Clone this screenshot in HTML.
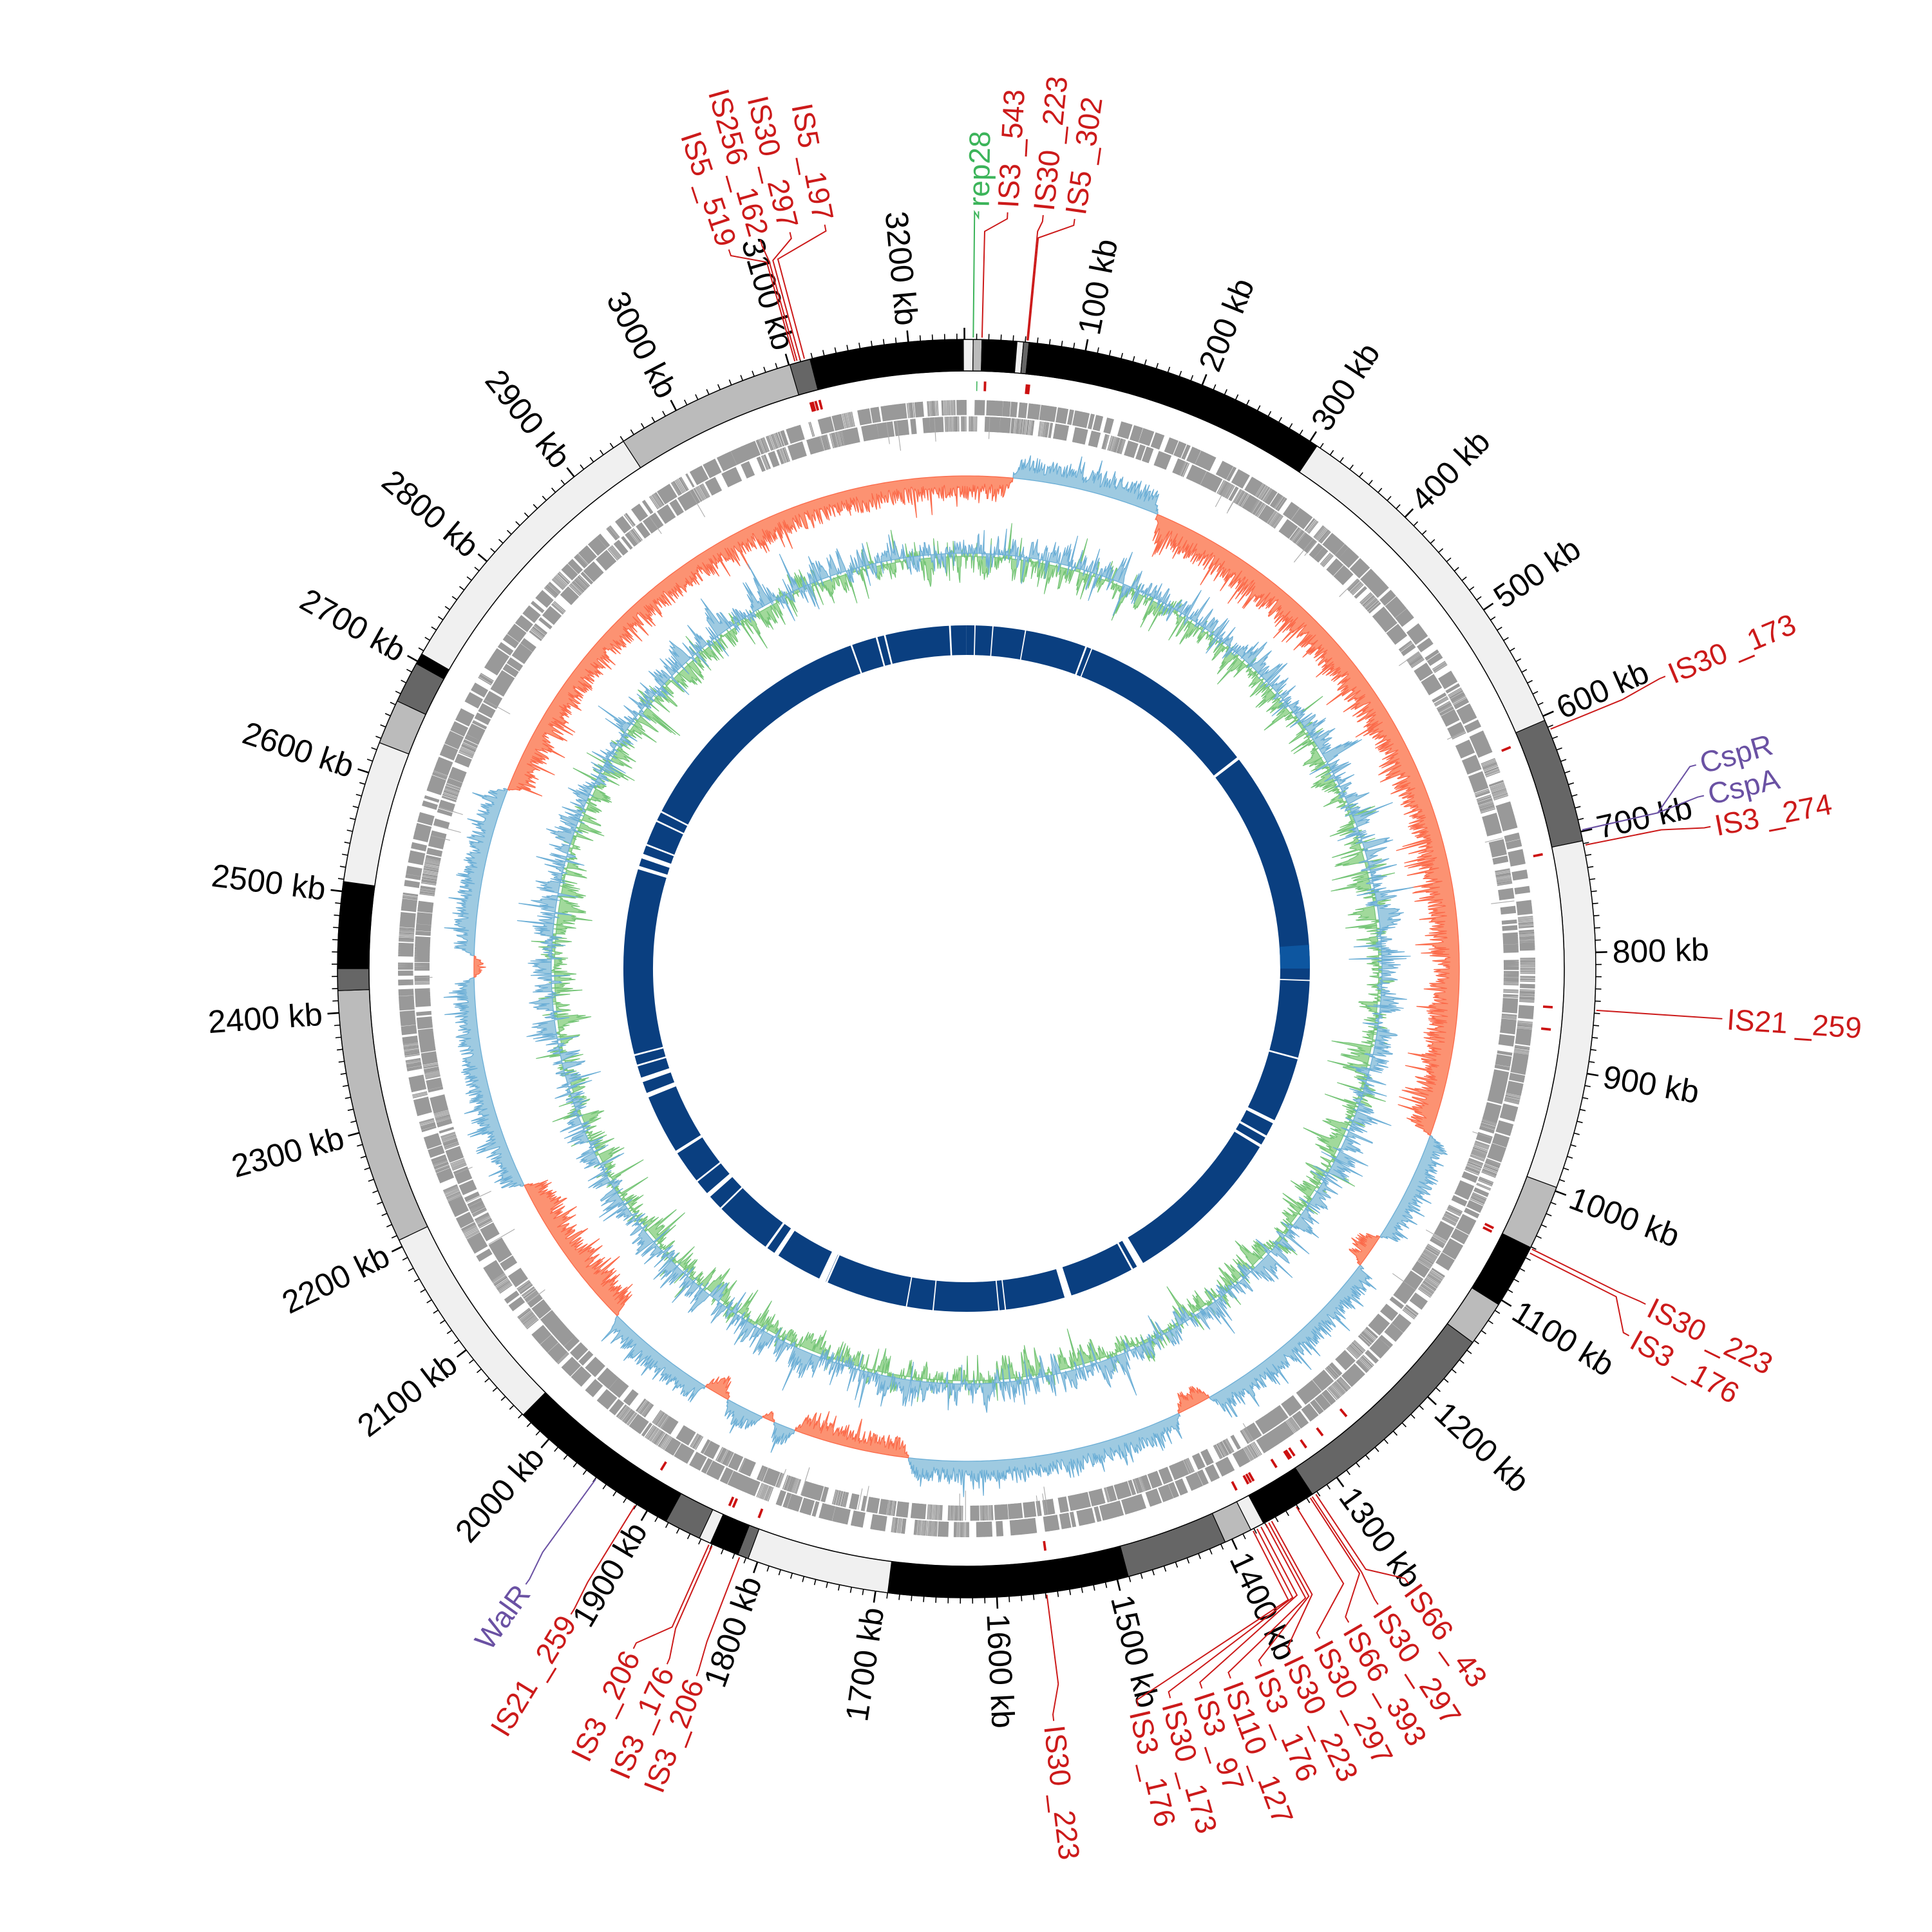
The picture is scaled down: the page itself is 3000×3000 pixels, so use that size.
<!DOCTYPE html>
<html><head><meta charset="utf-8"><style>html,body{margin:0;padding:0;background:#fff;}svg{display:block;}</style></head>
<body>
<svg id="s" xmlns="http://www.w3.org/2000/svg" width="3000" height="3000" viewBox="0 0 3000 3000">
<rect width="3000" height="3000" fill="#fff"/>
<g id="g"></g>
</svg>
<script>
(function(){
var cx=1501, cy=1504, NS="http://www.w3.org/2000/svg", G=document.getElementById('g');
function P(r,a){var t=a*Math.PI/180;return [cx+r*Math.sin(t), cy-r*Math.cos(t)];}
function f(p){return p[0].toFixed(1)+" "+p[1].toFixed(1);}
function el(tag,attrs,txt){var e=document.createElementNS(NS,tag);for(var k in attrs)e.setAttribute(k,attrs[k]);if(txt!==undefined)e.textContent=txt;G.appendChild(e);return e;}
function sector(r1,r2,a1,a2,fill,extra){var lg=(a2-a1)>180?1:0;
 var d="M"+f(P(r2,a1))+"A"+r2+" "+r2+" 0 "+lg+" 1 "+f(P(r2,a2))+"L"+f(P(r1,a2))+"A"+r1+" "+r1+" 0 "+lg+" 0 "+f(P(r1,a1))+"Z";
 var o={d:d,fill:fill};if(extra)for(var k in extra)o[k]=extra[k];return el('path',o);}
var seed=12345;function rnd(){seed|=0;seed=seed+0x6D2B79F5|0;var t=Math.imul(seed^seed>>>15,1|seed);t=t+Math.imul(t^t>>>7,61|t)^t;return((t^t>>>14)>>>0)/4294967296;}
function cor(a){return a+0.4*Math.cos(a*Math.PI/180);}

var L="#f0f0f0",LG="#bbbbbb",D="#666666",B="#000000";
var bands=[[-14.8,-0.7,B],[-0.7,0.2,L],[0.2,1.0,LG],[1.0,4.2,B],[4.2,4.8,L],[4.8,5.3,D],[5.3,33.5,B],[33.5,66.6,L],[66.6,78.2,D],[78.2,110.5,L],[110.5,116.5,LG],[116.5,122.5,B],[122.5,126.7,LG],[126.7,147,D],[147,152.2,B],[152.2,153.5,L],[153.5,156.1,LG],[156.1,165.5,D],[165.5,187.6,B],[187.6,200.7,L],[200.7,201.7,D],[201.7,204.4,B],[204.4,205.5,L],[205.5,208.9,D],[208.9,225.1,B],[225.1,244.6,L],[244.6,268,LG],[268,270,D],[270,277.9,B],[277.9,290.9,L],[290.9,295,LG],[295,298.8,D],[298.8,299.8,B],[299.8,326.6,L],[326.6,343.3,LG],[343.3,345.2,D]];
bands.forEach(function(b){sector(928,977,cor(b[0]),cor(b[1]),b[2],{stroke:"#000","stroke-width":"1.2"});});
el('circle',{cx:cx,cy:cy,r:977,fill:"none",stroke:"#000","stroke-width":"1.5"});
el('circle',{cx:cx,cy:cy,r:928,fill:"none",stroke:"#000","stroke-width":"1.5"});

var dmin="",dmaj="";
for(var kb=0;kb<=3240;kb+=10){var a=-0.2+kb*0.1109;
 if(kb%100===0){dmaj+="M"+f(P(977,a))+"L"+f(P(995,a));}else{dmin+="M"+f(P(977,a))+"L"+f(P(986,a));}}
el('path',{d:dmin,stroke:"#000","stroke-width":"1.6",fill:"none"});
el('path',{d:dmaj,stroke:"#000","stroke-width":"2.6",fill:"none"});
function rtext(txt,a,r,color,size){var p=P(r,a);var aa=((a%360)+360)%360;var rot,anc;
 if(aa<180){rot=aa-90;anc="start";}else{rot=aa+90;anc="end";}
 el('text',{x:p[0].toFixed(1),y:p[1].toFixed(1),transform:"rotate("+rot.toFixed(2)+" "+p[0].toFixed(1)+" "+p[1].toFixed(1)+")","text-anchor":anc,"dominant-baseline":"central","font-family":"'Liberation Sans Narrow','Liberation Sans',sans-serif","font-size":size,fill:color},txt);}
for(var kb=100;kb<=3200;kb+=100){rtext(kb+" kb",-0.2+kb*0.1109,1003,"#000",50);}

var marks=[1.4,5.5,5.7,-15.8,-15.6,-15.3,-14.9,67.7,78.7,93.8,116.4,116.8,146.4,146.8,147,148.5,151.1,151.4,151.7,153,172.7,201.1,203.8,204.2,211.7,96,140,143,145];
marks.forEach(function(m){sector(897,912,cor(m)-0.12,cor(m)+0.12,"#cc1111");});
sector(897,912,cor(0.6)-0.05,cor(0.6)+0.05,"#3cb45a");

var gd="";
[[834,857.5],[859.5,883]].forEach(function(rr,row){var a=row*0.3;
 while(a<360){var g=rnd()<0.6?rnd()*0.3:rnd()*0.9;a+=g;var bl=0.2+rnd()*1.4;var dense=rnd()<0.75;
  for(var b=a;b<a+bl&&b<360;b+=(dense?0.045:0.1)+rnd()*0.05){gd+="M"+f(P(rr[0],b))+"L"+f(P(rr[1],b));}
  a+=bl;}});
el('path',{d:gd,stroke:"#999","stroke-width":"1.6",fill:"none"});
var ld="";for(var i=0;i<40;i++){var a=rnd()*360;ld+="M"+f(P(810+rnd()*20,a))+"L"+f(P(857,a));}
el('path',{d:ld,stroke:"#aaa","stroke-width":"1.1",fill:"none"});

var base=765;
function skew(a1,a2,dir,amp,fill,stroke){var pts=[];pts.push(P(base,a1));
 for(var a=a1;a<=a2;a+=0.09){var v=amp*(0.2+0.45*rnd()+(rnd()<0.12?0.45*rnd():0));var edge=Math.min(1,(a-a1)/0.8,(a2-a)/0.8);v*=Math.max(0.2,edge);pts.push(P(base+dir*v,a));}
 pts.push(P(base,a2));for(var a=a2;a>=a1;a-=0.5)pts.push(P(base,a));
 el('polygon',{points:pts.map(f).join(" "),fill:fill,stroke:stroke,"stroke-width":"1.3","stroke-linejoin":"round"});}
var blueR=[[5.4,22.8],[109.8,123],[127,150.5],[154.5,186.8],[200.4,203],[204.5,209],[212,225.2],[243.9,269],[271.5,291.3]];
var redR=[[22.8,109.8,70],[123,127,50],[150.5,154.5,45],[186.8,200.4,45],[203,204.5,30],[209,212,50],[225.2,243.9,65],[269,271.5,25],[291.3,365.4,60]];
blueR.forEach(function(r){skew(r[0],r[1],1,52,"#9ecae1","#6baed6");});
redR.forEach(function(r){skew(r[0],r[1],-1,r[2],"#fc9272","#fb6a4a");});

function gc(b,amp,bias,fill,stroke){var pts=[];pts.push(P(b,0));var w=0;
 for(var a=0;a<=360;a+=0.1){w=w*0.8+(rnd()-0.5)*amp*0.6;var v=w+bias+(rnd()<0.08?(rnd()-0.5)*amp*2.2:(rnd()-0.5)*amp*0.6);pts.push(P(b+v,a));}
 for(var a=360;a>=0;a-=0.5)pts.push(P(b,a));
 el('polygon',{points:pts.map(f).join(" "),fill:fill,stroke:stroke,"stroke-width":"1.2","stroke-linejoin":"round"});}
gc(640,40,-6,"#a1d99b","#74c476");
gc(645,40,8,"#9ecae1","#6baed6");

sector(487,533,0,359.99,"#0a3f80");
sector(487,533,cor(86),cor(90),"#0d56a0");
var gaps=[[-14.2,0.3],[-15.6,0.3],[-20,0.3],[-3.2,0.3],[1,0.2],[4,0.2],[9.5,0.2],[20,0.3],[21,0.2],[52,0.5],[92,0.2],[105.3,0.3],[116.7,0.6],[119.5,0.4],[121.3,0.5],[150,1.2],[151.5,0.3],[163.2,1.2],[173.9,0.2],[175,0.2],[186,0.2],[190.5,0.2],[204.4,0.3],[205.2,1.2],[214,0.8],[216,0.4],[226,0.3],[229,0.8],[232,0.3],[237.9,0.5],[248.5,0.8],[251.2,0.8],[253.7,0.3],[255.5,0.3],[287,0.6],[289,0.8],[291,0.3],[295.3,0.3],[297,0.3]];
gaps.forEach(function(g){var a=cor(g[0]);sector(484,536,a-g[1]/2,a+g[1]/2,"#fff");});

var RED="#cc1a1a",PUR="#6a51a3",GRN="#3cb45a";
function lab(txt,ap,al,color,rb){rb=rb||1120;
 var pts=[P(980,ap),P(rb,ap),P(1166,al),P(1176,al)];
 el('polyline',{points:pts.map(f).join(" "),fill:"none",stroke:color,"stroke-width":"2"});
 rtext(txt,al,1183,color,46);}
lab("rep28",0.6,0.9,GRN,1175);
lab("IS3 _543",1.4,3.1,RED,1145);
lab("IS30 _223",5.5,5.8,RED,1150);
lab("IS5 _302",5.6,8.2,RED,1140);
lab("IS5 _519",-15.8,-18.3,RED,1140);
lab("IS256 _162",-15.6,-15.8,RED,1140);
lab("IS30 _297",-15.3,-13.5,RED,1140);
lab("IS5 _197",-14.9,-10.8,RED,1140);
lab("IS30 _173",67.7,67.3,RED,1100);
lab("CspR",77.3,74.4,PUR,1100);
lab("CspA",77.3,76.8,PUR,1100);
lab("IS3 _274",78.7,79.2,RED,1100);
lab("IS21 _259",93.8,93.8,RED,1100);
lab("IS30 _223",116.4,116.3,RED,1130);
lab("IS3 _176",116.8,119,RED,1130);
lab("IS66 _43",146.4,144.3,RED,1120);
lab("IS30 _297",146.8,147.1,RED,1120);
lab("IS66 _393",147.0,149.7,RED,1120);
lab("IS30 _297",148.5,152.2,RED,1120);
lab("IS30 _223",151.1,154.7,RED,1110);
lab("IS3 _176",151.4,157.1,RED,1110);
lab("IS110 _127",151.7,159.6,RED,1110);
lab("IS3 _97",152.2,161.9,RED,1100);
lab("IS30 _173",152.6,164.4,RED,1100);
lab("IS3 _176",153.0,166.9,RED,1100);
lab("IS30 _223",172.7,173.4,RED,1120);
lab("IS3 _206",201.1,200.9,RED,1120);
lab("IS3 _176",203.8,203.3,RED,1120);
lab("IS3 _206",204.1,206.1,RED,1120);
lab("IS21 _259",211.7,211.5,RED,1120);
lab("WalR",216,215.6,PUR,1120);
})();
</script>
</body></html>
